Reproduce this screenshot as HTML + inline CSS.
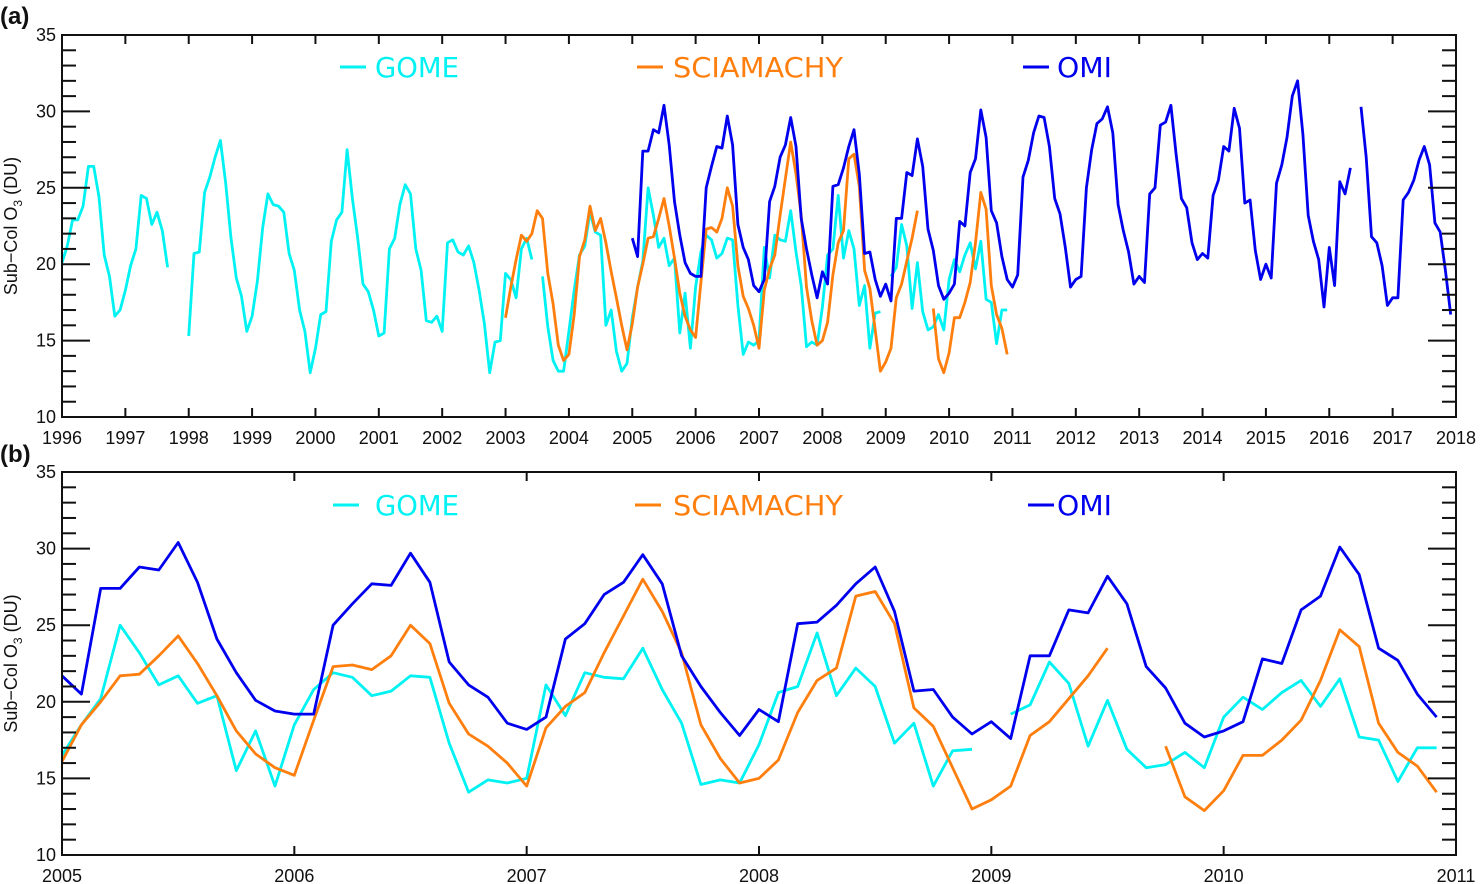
<!DOCTYPE html>
<html><head><meta charset="utf-8"><style>
html,body{margin:0;padding:0;background:#fff;}
svg{display:block;font-family:"Liberation Sans",sans-serif;}
</style></head><body>
<svg id="chart" width="1480" height="884" viewBox="0 0 1480 884" xmlns="http://www.w3.org/2000/svg"></svg>
<script>
// GOME monthly, Jan 1996 - Dec 2010
const gomeValues = [
20.1,21.2,22.9,22.9,23.8,26.4,26.4,24.4,20.6,19.2,16.6,17.0,
18.3,19.9,21.0,24.5,24.3,22.6,23.4,22.2,19.8,null,null,null,
15.3,20.7,20.8,24.7,25.7,27.0,28.1,25.3,21.7,19.1,17.9,15.6,
16.6,18.9,22.4,24.6,23.9,23.8,23.4,20.7,19.6,17.0,15.6,12.9,
14.5,16.7,16.9,21.5,22.9,23.4,27.5,24.3,21.7,18.7,18.2,17.0,
15.3,15.5,21.0,21.7,23.9,25.2,24.6,21.0,19.6,16.3,16.2,16.6,
15.6,21.4,21.6,20.8,20.6,21.2,20.1,18.3,16.1,12.9,14.9,15.0,
19.4,19.0,17.8,21.0,21.7,20.3,null,19.2,15.9,13.7,13.0,13.0,
15.6,18.3,20.6,21.2,23.4,22.1,21.9,16.0,17.0,14.3,13.0,13.5,
16.5,18.5,20.2,25.0,23.2,21.1,21.7,19.9,20.4,15.5,18.1,14.5,
18.5,20.8,21.9,21.6,20.4,20.7,21.7,21.6,17.3,14.1,14.9,14.7,
15.0,21.1,19.1,21.9,21.6,21.5,23.5,20.8,18.6,14.6,14.9,14.7,
17.2,20.6,21.0,24.5,20.4,22.2,21.0,17.3,18.6,14.5,16.8,16.9,
null,19.2,19.8,22.6,21.2,17.1,20.1,16.9,15.7,15.9,16.7,15.7,
19.0,20.3,19.5,20.6,21.4,19.7,21.5,17.7,17.5,14.8,17.0,17.0];
const gomeStart = 1996;
// SCIAMACHY monthly, Jan 2003 - Dec 2010
const sciaValues = [
16.5,18.5,20.3,21.9,21.5,22.0,23.5,23.0,19.4,17.4,14.7,13.7,
14.1,16.7,20.5,21.6,23.8,22.2,23.0,21.4,19.5,17.8,16.0,14.4,
16.1,18.5,20.0,21.7,21.8,23.0,24.3,22.5,20.4,18.1,16.6,15.7,
15.2,18.8,22.3,22.4,22.1,23.0,25.0,23.8,19.9,17.9,17.1,16.0,
14.5,18.3,19.7,20.6,23.2,25.6,28.0,25.9,23.2,18.5,16.3,14.7,
15.0,16.2,19.3,21.4,22.2,26.9,27.2,25.1,19.6,18.4,15.7,13.0,
13.6,14.5,17.8,18.7,20.2,21.7,23.5,null,null,17.1,13.8,12.9,
14.2,16.5,16.5,17.5,18.8,21.4,24.7,23.6,18.6,16.7,15.8,14.1];
const sciaStart = 2003;
// OMI monthly, Jan 2005 - Dec 2017
const omiValues = [
21.7,20.5,27.4,27.4,28.8,28.6,30.4,27.8,24.1,21.9,20.1,19.4,
19.2,19.2,25.0,26.4,27.7,27.6,29.7,27.8,22.6,21.1,20.3,18.6,
18.2,19.0,24.1,25.1,27.0,27.8,29.6,27.7,23.0,21.0,19.3,17.8,
19.5,18.7,25.1,25.2,26.3,27.7,28.8,25.9,20.7,20.8,19.0,17.9,
18.7,17.6,23.0,23.0,26.0,25.8,28.2,26.4,22.3,20.9,18.6,17.7,
18.1,18.7,22.8,22.5,26.0,26.9,30.1,28.3,23.5,22.7,20.5,19.0,
18.5,19.3,25.7,26.8,28.6,29.7,29.6,27.7,24.3,23.3,21.1,18.5,
19.0,19.2,25.0,27.5,29.2,29.5,30.3,28.6,23.9,22.2,20.8,18.7,
19.2,18.8,24.6,25.0,29.1,29.3,30.4,27.2,24.3,23.7,21.4,20.3,
20.7,20.4,24.5,25.5,27.7,27.4,30.2,28.9,24.0,24.2,20.9,19.0,
20.0,19.1,25.3,26.5,28.3,31.0,32.0,28.5,23.2,21.5,20.3,17.2,
21.1,18.6,25.4,24.6,26.3,null,30.3,27.0,21.8,21.4,19.9,17.3,
17.8,17.8,24.2,24.7,25.5,26.8,27.7,26.5,22.7,22.1,19.6,16.7];
const omiStart = 2005;
const yTicks = [10,15,20,25,30,35];
const yearsA = [1996,1997,1998,1999,2000,2001,2002,2003,2004,2005,2006,2007,2008,2009,2010,2011,2012,2013,2014,2015,2016,2017,2018];
const yearsB = [2005,2006,2007,2008,2009,2010,2011];
const seriesNames = ["GOME","SCIAMACHY","OMI"];

const NS = "http://www.w3.org/2000/svg";
const svg = document.getElementById("chart");
function mk(tag, attrs, parent){
  const e = document.createElementNS(NS, tag);
  for (const k in attrs) e.setAttribute(k, attrs[k]);
  (parent||svg).appendChild(e);
  return e;
}
const colors = {GOME:"#00f2f2", SCIAMACHY:"#ff7f0e", OMI:"#0000ee"};
const seriesData = {GOME:[gomeValues,gomeStart], SCIAMACHY:[sciaValues,sciaStart], OMI:[omiValues,omiStart]};

function drawPanel(p){
  const g = mk("g", {});
  
  
  const x0=p.x0,x1=p.x1,yT=p.yT,yB=p.yB;
  const t0=p.years[0], t1=p.years[p.years.length-1];
  const sx = t => x0 + (t-t0)/(t1-t0)*(x1-x0);
  const sy = v => yB - (v-10)/25*(yB-yT);
  seriesNames.forEach(nm=>{
    const [vals,start]=seriesData[nm];
    let d="", pen=false;
    vals.forEach((v,i)=>{
      const t = start + i/12;
      if (v===null || t < t0-1e-6 || t > t1-1e-6){pen=false;return;}
      d += (pen?"L":"M")+sx(t).toFixed(1)+" "+sy(v).toFixed(1);
      pen=true;
    });
    const path = mk("path",{d:d,fill:"none",stroke:colors[nm],"stroke-width":p.sw,"stroke-linejoin":"round"},g);
    
    
  });
  const fr = mk("rect",{x:x0,y:yT,width:x1-x0,height:yB-yT,fill:"none",stroke:"#111","stroke-width":2},g);
  
  
  for (let v=10; v<=35; v++){
    const y=sy(v), len=(v%5===0)?28:14;
    mk("line",{x1:x0,y1:y,x2:x0+len,y2:y,stroke:"#111","stroke-width":2},g);
    mk("line",{x1:x1,y1:y,x2:x1-len,y2:y,stroke:"#111","stroke-width":2},g);
  }
  yTicks.forEach(v=>{
    const t = mk("text",{x:x0-6,y:sy(v)+6,"text-anchor":"end","font-size":18,fill:"#111"},g);
    t.textContent=v;
    
    
  });
  p.years.forEach(yr=>{
    const x=sx(yr);
    mk("line",{x1:x,y1:yB,x2:x,y2:yB-9,stroke:"#111","stroke-width":2},g);
    mk("line",{x1:x,y1:yT,x2:x,y2:yT+9,stroke:"#111","stroke-width":2},g);
    const t = mk("text",{x:x,y:yB+p.labDy,"text-anchor":"middle","font-size":18,fill:"#111"},g);
    t.textContent=yr;
    
    
  });
  const cy=(yT+yB)/2;
  const yt = mk("text",{x:0,y:0,transform:`translate(17,${cy}) rotate(-90)`,"text-anchor":"middle","font-size":18,fill:"#111"},g);
  yt.innerHTML='Sub\u2212Col O<tspan font-size="12" dy="5">3</tspan><tspan dy="-5"> (DU)</tspan>';
  
  
  const pl = mk("text",{x:0,y:p.lblY,"font-size":24,"font-weight":"bold",fill:"#111"},g);
  pl.textContent=p.label;
  
  
  p.legend.forEach((lx,i)=>{
    const nm=seriesNames[i];
    const lg = mk("g",{},g);
    
    
    mk("line",{x1:lx[0],y1:p.legY,x2:lx[0]+26,y2:p.legY,stroke:colors[nm],"stroke-width":3},lg);
    const t = mk("text",{x:lx[1],y:p.legY+10,"font-size":28,fill:colors[nm],"font-family":"DejaVu Sans, sans-serif","textLength":lx[2],"lengthAdjust":"spacingAndGlyphs"},lg);
    t.textContent=nm;
  });
}
drawPanel({name:"panel-a",x0:62,x1:1456,yT:35,yB:417,years:yearsA,sw:2.8,labDy:27,label:"(a)",lblY:24,legY:67,
  legend:[[340,375,84],[637,673,170],[1023,1057,55]]});
drawPanel({name:"panel-b",x0:62,x1:1456,yT:472,yB:855,years:yearsB,sw:2.8,labDy:27,label:"(b)",lblY:462,legY:505,
  legend:[[333,375,84],[635,673,170],[1028,1057,55]]});
</script>
</body></html>
